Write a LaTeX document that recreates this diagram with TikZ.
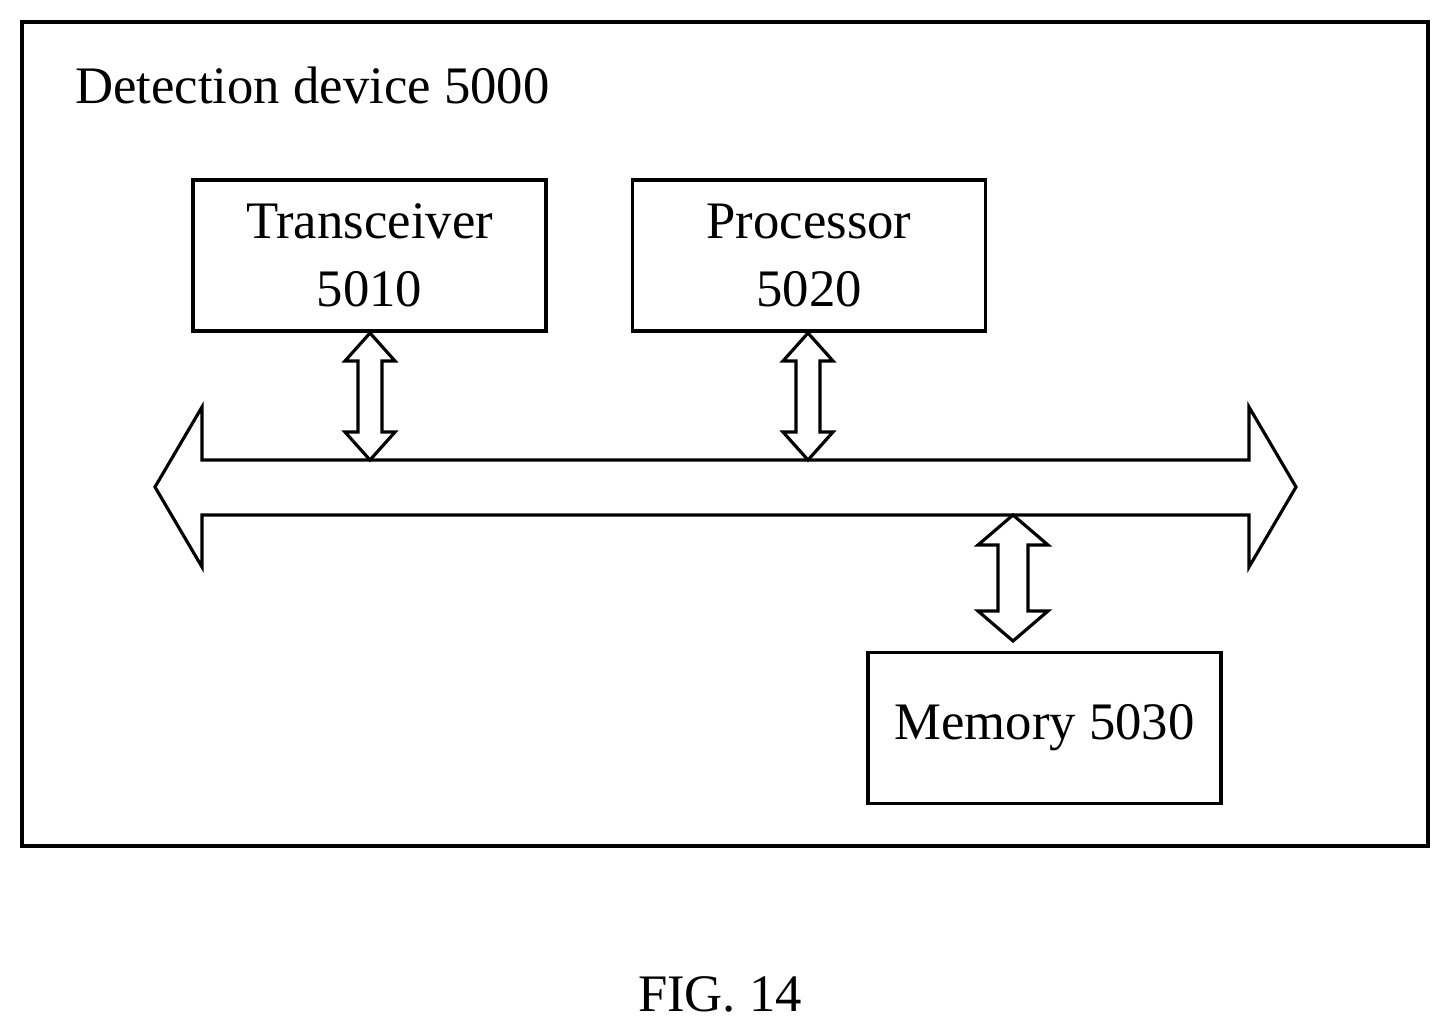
\documentclass[tikz,border=0pt]{standalone}
\usepackage{fontspec}
\setmainfont{Liberation Serif}
\usetikzlibrary{positioning}
\tikzset{
  blk/.style={draw,line width=2.2pt,minimum width=7.06cm,minimum height=3.02cm,align=center,font=\fontsize{30}{39}\selectfont},
  hollow/.style={draw,line width=1.8pt,fill=white,line join=miter}
}
% vertical hollow double arrow: x, top y, bottom y, half head, half shaft, head length
\newcommand{\vdarrow}[6]{%
  \draw[hollow] (#1,#2) -- (#1+#4,#2+#6) -- (#1+#5,#2+#6) -- (#1+#5,#3-#6) -- (#1+#4,#3-#6)
    -- (#1,#3) -- (#1-#4,#3-#6) -- (#1-#5,#3-#6) -- (#1-#5,#2+#6) -- (#1-#4,#2+#6) -- cycle;}
\begin{document}
\begin{tikzpicture}[x=0.02cm,y=-0.02cm]
			\useasboundingbox (0,0) rectangle (1450,1020);
			\draw [line width=2.4pt] (22,22) rectangle (1428,846);
			\node [anchor=base west,font=\fontsize{30}{36}\selectfont,inner sep=0pt] (title) at (75,104) {Detection device 5000};
			
			\node [blk] (trx) at (369.5,255.5) {Transceiver\\5010};
			\node [blk] (proc) at (809,255.5) {Processor\\5020};
			\node [blk] (mem) at (1044.5,728) {Memory 5030};
			
			% bus
			\draw [hollow] (155,487) -- (202,407) -- (202,460) -- (1249,460) -- (1249,407) -- (1296,487)
				-- (1249,567) -- (1249,515) -- (202,515) -- (202,567) -- cycle;
			
			\vdarrow{370}{333}{460}{25}{12}{28}
			\vdarrow{808}{333}{460}{25}{12}{28}
			\vdarrow{1013}{515}{641}{35}{15}{30}
			
			\node [anchor=base,inner sep=0pt,font=\fontsize{30}{36}\selectfont] (fig) at (720,1011) {FIG. 14};
		\end{tikzpicture}
\end{document}
